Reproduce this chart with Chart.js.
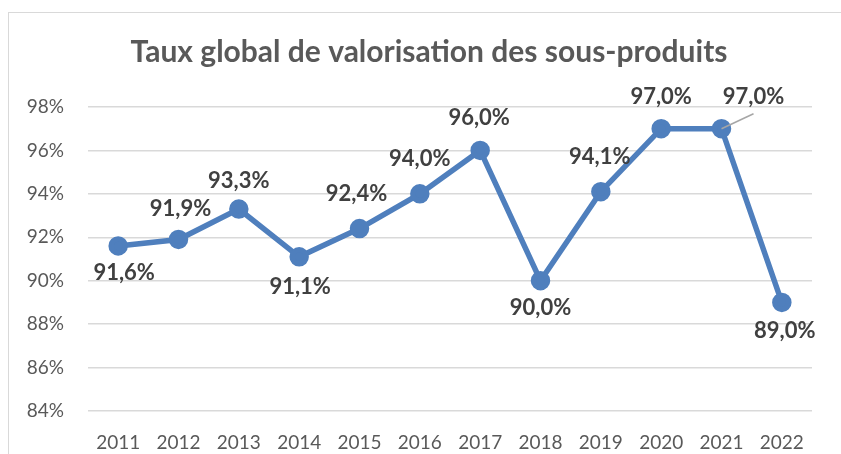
<!DOCTYPE html>
<html>
<head>
<meta charset="utf-8">
<script src="https://cdn.jsdelivr.net/npm/chart.js@4.4.1/dist/chart.umd.min.js"></script>
<style>
  html, body { margin: 0; padding: 0; background: #fff; }
  #wrap { width: 841px; height: 454px; position: relative; }
</style>
</head>
<body>
<div id="wrap"><canvas id="chart"></canvas></div>
<script>
const years = ['2011', '2012', '2013', '2014', '2015', '2016', '2017', '2018', '2019', '2020', '2021', '2022'];
const rates = [91.6, 91.9, 93.3, 91.1, 92.4, 94.0, 96.0, 90.0, 94.1, 97.0, 97.0, 89.0];
const yTicks = [84, 86, 88, 90, 92, 94, 96, 98];

// label placement relative to each point (px), and which get a leader line
const labelOffsets = [[6, 27], [2, -31], [0, -28], [1, 30], [-3, -35], [0, -35], [-1, -33], [0, 27], [-1, -35], [0, -32], [32, -32], [3, 28]];
const leaderLines = [false, false, false, false, false, false, false, false, false, false, true, false];

const frame = {
    id: 'frame',
    beforeDraw(chart) {
        const ctx = chart.ctx;
        ctx.save();
        ctx.strokeStyle = '#d9d9d9';
        ctx.lineWidth = 1;
        ctx.strokeRect(8.5, 12.5, 900, 500);
        ctx.restore();
    }
};

// nudge the title so it is centred like the original
const titleShift = {
    id: 'titleShift',
    afterLayout(chart) {
        if (chart.titleBlock) {
            chart.titleBlock.left = 46;
            chart.titleBlock.right = 812;
        }
    }
};

const valueLabels = {
    id: 'valueLabels',
    afterDatasetsDraw(chart) {
        const ctx = chart.ctx;
        const meta = chart.getDatasetMeta(0);
        ctx.save();
        ctx.font = 'bold 22px Lato';
        ctx.fillStyle = '#404040';
        ctx.textAlign = 'center';
        ctx.textBaseline = 'middle';
        meta.data.forEach((pt, i) => {
            const [dx, dy] = labelOffsets[i];
            const x = pt.x + dx, y = pt.y + dy;
            if (leaderLines[i]) {
                ctx.strokeStyle = '#a6a6a6';
                ctx.lineWidth = 1.5;
                ctx.beginPath();
                ctx.moveTo(pt.x, pt.y);
                ctx.lineTo(x, y + 17);
                ctx.stroke();
            }
            ctx.fillText(rates[i].toFixed(1).replace('.', ',') + '%', x, y);
        });
        ctx.restore();
    }
};

new Chart(document.getElementById('chart'), {
    type: 'line',
    data: {
        labels: years,
        datasets: [{
            data: rates,
            borderColor: '#4f7fbd',
            backgroundColor: '#4f7fbd',
            borderWidth: 5.5,
            pointRadius: 7,
            pointHoverRadius: 7,
            tension: 0
        }]
    },
    options: {
        responsive: true,
        maintainAspectRatio: false,
        animation: false,
        layout: { padding: { left: 0, right: 29, top: 0, bottom: 0 } },
        plugins: {
            legend: { display: false },
            tooltip: { enabled: false },
            title: {
                display: true,
                text: 'Taux global de valorisation des sous-produits',
                color: '#595959',
                font: { family: 'Lato', size: 30, weight: 'bold' },
                padding: { top: 34, bottom: 37 }
            }
        },
        scales: {
            x: {
                offset: true,
                grid: { display: false, drawTicks: false },
                border: { display: false },
                ticks: { color: '#595959', font: { family: 'Lato', size: 19 }, padding: 20, maxRotation: 0 },
                afterFit(scale) { scale.height = 43; }
            },
            y: {
                min: 84,
                max: 98,
                afterBuildTicks(scale) { scale.ticks = yTicks.map(v => ({ value: v })); },
                grid: { color: '#d9d9d9', lineWidth: 1.5, drawTicks: false },
                border: { display: false },
                ticks: {
                    color: '#595959',
                    font: { family: 'Lato', size: 19 },
                    padding: 24,
                    callback: v => v + '%'
                },
                afterFit(scale) { scale.width = 88; }
            }
        }
    },
    plugins: [frame, titleShift, valueLabels]
});
</script>
</body>
</html>
